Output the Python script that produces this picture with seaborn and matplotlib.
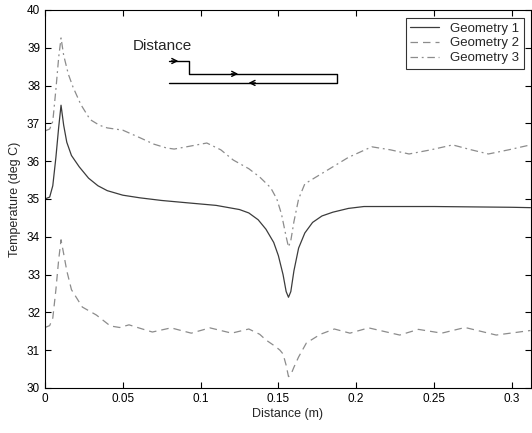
import numpy as np
import pandas as pd
import matplotlib
matplotlib.use("Agg")
import matplotlib.pyplot as plt
import seaborn as sns

# Geometry 1 (solid)
x_g1 = [0.0, 0.003, 0.005, 0.007, 0.0088, 0.0103, 0.012, 0.014, 0.017, 0.022, 0.028, 0.034,
        0.04, 0.05, 0.061, 0.075, 0.091, 0.11, 0.125, 0.131, 0.137, 0.142, 0.147, 0.15,
        0.153, 0.155, 0.1565, 0.158, 0.16, 0.163, 0.167, 0.172, 0.178, 0.185, 0.195, 0.205,
        0.25, 0.3, 0.312]
y_g1 = [35.0, 35.05, 35.35, 36.1, 36.9, 37.48, 36.95, 36.5, 36.15, 35.85, 35.55, 35.35,
        35.22, 35.1, 35.03, 34.96, 34.9, 34.83, 34.72, 34.63, 34.45, 34.2, 33.85, 33.5,
        33.0, 32.55, 32.4, 32.55, 33.1, 33.7, 34.1, 34.38, 34.55, 34.65, 34.75, 34.8,
        34.8, 34.78, 34.77]

# Geometry 2 (dashed)
x_g2 = [0.0, 0.003, 0.005, 0.007, 0.0088, 0.0103, 0.012, 0.014, 0.017, 0.024, 0.033, 0.042,
        0.048, 0.054, 0.061, 0.069, 0.081, 0.094, 0.106, 0.12, 0.131, 0.138, 0.142, 0.148,
        0.151, 0.153, 0.155, 0.1565, 0.158, 0.16, 0.163, 0.168, 0.177, 0.186, 0.196, 0.208,
        0.228, 0.24, 0.255, 0.27, 0.29, 0.312]
y_g2 = [31.6, 31.65, 31.85, 32.6, 33.4, 33.92, 33.55, 33.1, 32.6, 32.14, 31.93, 31.64,
        31.6, 31.67, 31.58, 31.48, 31.59, 31.45, 31.59, 31.45, 31.56, 31.42, 31.27, 31.1,
        31.0, 30.9, 30.6, 30.3, 30.35, 30.55, 30.82, 31.19, 31.42, 31.56, 31.45, 31.59,
        31.4, 31.55, 31.45, 31.6, 31.4, 31.52]

# Geometry 3 (dash-dot)
x_g3 = [0.0, 0.003, 0.005, 0.007, 0.0088, 0.0103, 0.012, 0.015, 0.018, 0.023, 0.029, 0.035,
        0.04, 0.05, 0.061, 0.07, 0.078, 0.083, 0.091, 0.104, 0.113, 0.121, 0.131, 0.138,
        0.145, 0.149, 0.152, 0.155, 0.1565, 0.158, 0.16, 0.163, 0.167, 0.175, 0.183, 0.195,
        0.21, 0.222, 0.234, 0.248, 0.262, 0.274, 0.285, 0.298, 0.312]
y_g3 = [36.8, 36.85, 37.05, 37.9, 38.75, 39.26, 38.8, 38.3, 37.96, 37.5, 37.1, 36.95,
        36.88, 36.82, 36.62, 36.45, 36.35, 36.32, 36.38, 36.48, 36.3, 36.03, 35.8, 35.58,
        35.3, 35.0, 34.6, 34.0, 33.73, 33.9, 34.4, 35.0, 35.4, 35.6, 35.8, 36.1,
        36.38, 36.3, 36.19, 36.3, 36.43, 36.3, 36.19, 36.3, 36.43]

labels = ["Geometry 1", "Geometry 2", "Geometry 3"]

# little path sketch next to "Distance"
sketch_x = [0.0795, 0.0923, 0.0923, 0.1878, 0.1878, 0.0795]
sketch_y = [38.65, 38.65, 38.31, 38.31, 38.07, 38.07]

df = pd.concat([
    pd.DataFrame({"x": x_g1, "y": y_g1, "geom": labels[0]}),
    pd.DataFrame({"x": x_g2, "y": y_g2, "geom": labels[1]}),
    pd.DataFrame({"x": x_g3, "y": y_g3, "geom": labels[2]}),
])

sns.set_style("ticks")
plt.rcParams["font.family"] = ["Liberation Sans", "DejaVu Sans"]

fig = plt.figure(figsize=(5.32, 4.33), dpi=100)
ax = fig.add_axes([0.0846, 0.104, 0.913, 0.873])

palette = {labels[0]: "#3c3c3c", labels[1]: "#8c8c8c", labels[2]: "#8c8c8c"}
dashes = {labels[0]: "", labels[1]: (6, 4), labels[2]: (6, 3, 1.5, 3)}
sns.lineplot(data=df, x="x", y="y", hue="geom", style="geom", palette=palette,
             dashes=dashes, linewidth=0.9, sort=False, estimator=None, ax=ax)

# sketch with arrows
ax.plot(sketch_x, sketch_y, color="black", lw=1.0)
arrow_kw = dict(arrowstyle="->", color="black", lw=1.0, mutation_scale=9)
ax.annotate("", xy=(0.0875, 38.65), xytext=(0.0795, 38.65), arrowprops=arrow_kw)
ax.annotate("", xy=(0.126, 38.31), xytext=(0.118, 38.31), arrowprops=arrow_kw)
ax.annotate("", xy=(0.129, 38.07), xytext=(0.137, 38.07), arrowprops=arrow_kw)
ax.text(0.0564, 39.05, "Distance", fontsize=11, va="center", ha="left")

ax.set_xlim(0, 0.3122)
ax.set_ylim(30, 40)
ax.set_xticks([0, 0.05, 0.1, 0.15, 0.2, 0.25, 0.3])
ax.set_xticklabels(["0", "0.05", "0.1", "0.15", "0.2", "0.25", "0.3"])
ax.set_yticks(range(30, 41))
ax.tick_params(direction="in", length=4, labelsize=8.5, top=True, right=True,
               width=0.8, colors="black")
for s in ax.spines.values():
    s.set_linewidth(0.8)
    s.set_color("black")
ax.set_xlabel("Distance (m)", fontsize=9, labelpad=2)
ax.set_ylabel("Temperature (deg C)", fontsize=9, labelpad=4)

leg = ax.legend(loc="upper right", fontsize=9.5, frameon=True, fancybox=False,
                handlelength=2.2, borderpad=0.35, labelspacing=0.2,
                bbox_to_anchor=(0.999, 0.997))
leg.get_frame().set_edgecolor("black")
leg.get_frame().set_linewidth(0.8)

fig.savefig("out.png", dpi=100)
